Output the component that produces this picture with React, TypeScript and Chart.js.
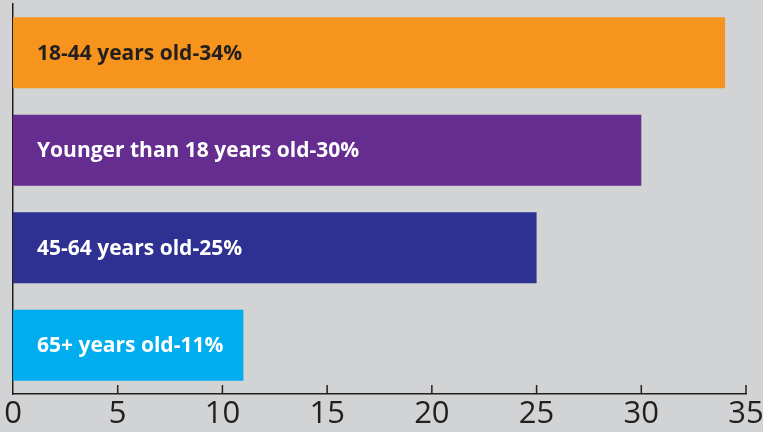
import React, { useEffect, useRef } from "react";
import { Chart, registerables } from "chart.js";

Chart.register(...registerables);

const categories = ["18-44 years old", "Younger than 18 years old", "45-64 years old", "65+ years old"];
const values = [34, 30, 25, 11];
const barLabels = ["18-44 years old-34%", "Younger than 18 years old-30%", "45-64 years old-25%", "65+ years old-11%"];
const barColors = ["#f7941d", "#662d91", "#2e3192", "#00aeef"];
const labelColors = ["#231f20", "#ffffff", "#ffffff", "#ffffff"];
const xTicks = [0, 5, 10, 15, 20, 25, 30, 35];

const AXIS = "#231f20";

const innerLabels = {
  id: "innerLabels",
  afterDatasetsDraw(chart: any) {
    const ctx = chart.ctx;
    const meta = chart.getDatasetMeta(0);
    ctx.save();
    ctx.font = "700 21px 'Open Sans'";
    ctx.textBaseline = "middle";
    ctx.textAlign = "left";
    meta.data.forEach((bar: any, i: number) => {
      ctx.fillStyle = labelColors[i];
      ctx.fillText(barLabels[i], bar.base + 24, bar.y + 1);
    });
    ctx.restore();
  },
};

const innerTicks = {
  id: "innerTicks",
  afterDraw(chart: any) {
    const ctx = chart.ctx;
    const x = chart.scales.x;
    const bottom = chart.chartArea.bottom;
    ctx.save();
    ctx.strokeStyle = AXIS;
    ctx.lineWidth = 1.5;
    xTicks.forEach((t) => {
      if (t === 0) return;
      const px = x.getPixelForValue(t);
      ctx.beginPath();
      ctx.moveTo(px, bottom);
      ctx.lineTo(px, bottom - 9);
      ctx.stroke();
    });
    ctx.restore();
  },
};

export default function App() {
  const ref = useRef<HTMLCanvasElement>(null);
  useEffect(() => {
    const chart = new Chart(ref.current!, {
      type: "bar",
      data: {
        labels: categories,
        datasets: [
          {
            data: values,
            backgroundColor: barColors,
            borderWidth: 0,
            barPercentage: 0.727,
            categoryPercentage: 1,
          },
        ],
      },
      options: {
        indexAxis: "y",
        animation: false,
        responsive: false,
        maintainAspectRatio: false,
        layout: { padding: { top: 4, left: 0, right: 0, bottom: 0 } },
        plugins: { legend: { display: false }, tooltip: { enabled: false } },
        scales: {
          x: {
            type: "linear",
            min: 0,
            max: 35,
            afterBuildTicks: (scale: any) => {
              scale.ticks = xTicks.map((v) => ({ value: v }));
            },
            afterFit: (scale: any) => {
              scale.height = 38;
              scale.paddingLeft = 0;
              scale.paddingRight = 17;
            },
            grid: { display: false, drawTicks: false },
            border: { display: true, color: AXIS, width: 1.5 },
            ticks: {
              color: AXIS,
              padding: 2,
              font: { family: "'Open Sans'", size: 31, weight: 400 },
            },
          },
          y: {
            afterFit: (scale: any) => {
              scale.width = 13;
            },
            grid: { display: false, drawTicks: false },
            border: { display: true, color: AXIS, width: 1.5 },
            ticks: { display: false },
          },
        },
      },
      plugins: [innerLabels, innerTicks],
    });
    return () => chart.destroy();
  }, []);
  return (
    <div style={{ position: "fixed", left: 0, top: 0, width: 763, height: 432, background: "#d1d3d4" }}>
      <canvas ref={ref} width={763} height={432} style={{ display: "block" }} />
    </div>
  );
}
